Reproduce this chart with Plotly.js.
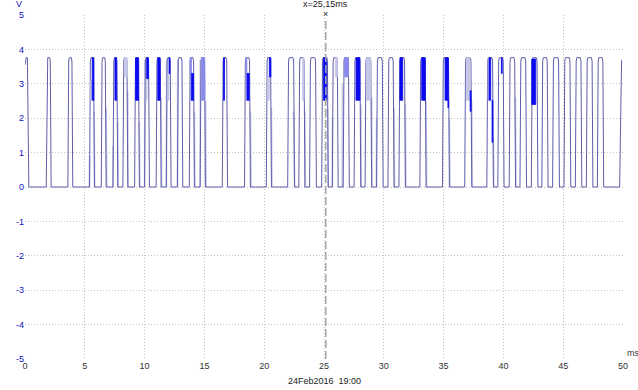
<!DOCTYPE html>
<html><head><meta charset="utf-8">
<script src="https://cdn.plot.ly/plotly-3.0.1.min.js"></script>
<style>html,body{margin:0;padding:0;background:#fff}#chart{width:638px;height:390px}</style>
</head><body><div id="chart"></div>
<script>
// ---- data (ms / V) ----
const riseMs = [1.81, 3.62, 5.43, 6.41, 7.39, 8.22, 9.2, 10.03, 11.0, 11.85, 12.78, 13.77, 14.68, 16.53, 18.39, 20.21, 22.0, 22.93, 23.83, 24.84, 25.73, 26.64, 27.55, 28.47, 29.43, 30.38, 31.3, 33.05, 34.94, 36.8, 38.65, 39.57, 40.52, 41.42, 42.37, 43.25, 44.15, 45.1, 46.05, 46.97, 47.89];
const fallMs = [2.15, 3.96, 5.77, 6.75, 7.72, 8.56, 9.53, 10.37, 11.35, 12.18, 13.16, 14.13, 15.05, 16.9, 18.81, 20.57, 22.5, 23.37, 24.33, 25.32, 26.15, 27.08, 28.04, 28.95, 29.91, 30.82, 31.77, 33.5, 35.45, 37.32, 39.13, 40.02, 40.98, 41.9, 42.85, 43.7, 44.65, 45.6, 46.52, 47.45, 48.35];
const highV = 3.76;
const startMs = [0, 0.1, 0.2, 0.32];
const startV = [3.55, 3.76, 3.76, 0];
const endMs = [49.72, 49.88, 49.92];
const endV = [0, 3.68, 3.7];

// glitch bands: dark blue
const blueX0 = [5.62, 7.52, 9.24, 10.17, 11.1, 12.04, 13.9, 16.6, 18.55, 20.43, 24.95, 27.68, 31.35, 33.17, 35.12, 35.36, 37.22, 38.8, 39.05, 39.83, 42.37];
const blueX1 = [5.76, 7.66, 9.5, 10.32, 11.3, 12.12, 14.1, 16.68, 18.75, 20.56, 25.22, 28.01, 31.58, 33.47, 35.4, 35.42, 37.3, 38.94, 39.12, 39.9, 42.7];
const blueLo = [2.52, 2.52, 2.52, 3.15, 2.52, 3.3, 2.52, 2.52, 2.52, 3.2, 2.52, 2.52, 2.52, 2.52, 2.52, 2.3, 2.2, 2.52, 1.3, 3.3, 2.4];
const blueHi = [3.76, 3.76, 3.76, 3.76, 3.76, 3.76, 3.3, 3.76, 3.3, 3.76, 3.76, 3.76, 3.76, 3.76, 3.76, 2.52, 2.8, 3.76, 2.52, 3.76, 3.72];
// glitch bands: medium blue
const midX0 = [13.8, 14.77, 18.45, 26.7];
const midX1 = [13.92, 15.03, 18.55, 27.05];
const midLo = [3.3, 2.52, 3.3, 3.2];
const midHi = [3.76, 3.76, 3.76, 3.76];
// glitch bands: lavender
const lavX0 = [5.5, 8.3, 9.22, 10.12, 11.95, 20.28, 23.2, 25.95, 28.55, 36.9, 38.72];
const lavX1 = [5.62, 8.55, 9.3, 10.2, 12.04, 20.43, 23.33, 26.12, 28.9, 37.2, 38.8];
const lavLo = [2.52, 3.2, 2.52, 2.52, 2.52, 2.52, 2.52, 3.2, 2.52, 2.52, 2.52];
const lavHi = [3.1, 3.76, 3.1, 3.15, 3.3, 3.2, 3.76, 3.76, 3.76, 3.76, 3.76];
// ghost edges (lavender): x at top, top V, x at bottom, bottom V
const ghostXTop = [5.4, 5.78, 6.78, 7.37, 7.75, 8.58, 9.55, 10.02, 11.38, 11.84, 12.77, 14.16, 14.66, 15.1, 18.85, 20.6, 22.45, 23.4, 25.3, 25.72, 26.55, 28.08, 28.98, 29.4, 30.86, 31.8, 33.53, 35.48, 37.35, 39.16, 41.0];
const ghostVTop = [0.9, 2.2, 2.3, 1.2, 1.9, 2.8, 1.9, 3.7, 2.6, 3.7, 3.7, 2.2, 3.7, 2.5, 2.2, 2.3, 2.2, 2.2, 2.3, 2.0, 3.0, 2.4, 2.6, 2.0, 2.3, 2.4, 2.5, 2.0, 2.5, 1.4, 2.6];
const ghostXBot = [5.38, 5.83, 6.84, 7.35, 7.8, 8.62, 9.6, 10.0, 11.42, 11.82, 12.75, 14.2, 14.64, 15.13, 18.9, 20.65, 22.55, 23.45, 25.35, 25.7, 26.52, 28.12, 29.02, 29.38, 30.9, 31.84, 33.58, 35.53, 37.4, 39.2, 41.05];
const ghostVBot = [0, 0, 0, 0, 0, 0, 0, 0, 0, 0, 0, 0, 0, 0, 0, 0, 0, 0, 0, 0, 0, 0, 0, 0, 0, 0, 0, 0, 0, 0, 0];

const cursorMs = 25.15;
const xTickVals = [0, 5, 10, 15, 20, 25, 30, 35, 40, 45, 50];
const xTickText = ['0', '5', '10', '15', '20', '25', '30', '35', '40', '45', '50'];
const yTickVals = [-5, -4, -3, -2, -1, 0, 1, 2, 3, 4, 5];
const yTickText = ['-5', '-4', '-3', '-2', '-1', '0', '1', '2', '3', '4', '5'];
const dateLabel = '24Feb2016  19:00';

// ---- build traces ----
const EDGE = 0.035, CORNER = 0.09;
const tx = [...startMs], ty = [...startV];
for (let i = 0; i < riseMs.length; i++) {
  const r = riseMs[i], f = fallMs[i];
  tx.push(r - EDGE, r + EDGE, r + CORNER, f - CORNER, f - EDGE, f + EDGE);
  ty.push(0, 3.66, highV, highV, 3.66, 0);
}
tx.push(...endMs); ty.push(...endV);

function rects(x0, x1, lo, hi) {
  const x = [], y = [];
  for (let i = 0; i < x0.length; i++) {
    x.push(x0[i], x1[i], x1[i], x0[i], x0[i], null);
    y.push(lo[i], lo[i], hi[i], hi[i], lo[i], null);
  }
  return {x, y};
}
const gx = [], gy = [];
for (let i = 0; i < ghostXTop.length; i++) {
  gx.push(ghostXTop[i], ghostXBot[i], null);
  gy.push(ghostVTop[i], ghostVBot[i], null);
}
const lav = rects(lavX0, lavX1, lavLo, lavHi);
const mid = rects(midX0, midX1, midLo, midHi);
const blu = rects(blueX0, blueX1, blueLo, blueHi);

const data = [
  {x: gx, y: gy, mode: 'lines', line: {color: '#c6c6e6', width: 1.6}, hoverinfo: 'skip', connectgaps: false},
  {x: tx, y: ty, mode: 'lines', line: {color: '#5e5eac', width: 1}, hoverinfo: 'skip'},
  {x: lav.x, y: lav.y, mode: 'lines', fill: 'toself', fillcolor: '#c6c6e8', line: {color: '#c6c6e8', width: 0.8}, hoverinfo: 'skip'},
  {x: mid.x, y: mid.y, mode: 'lines', fill: 'toself', fillcolor: '#8a8aea', line: {color: '#8a8aea', width: 0.8}, hoverinfo: 'skip'},
  {x: blu.x, y: blu.y, mode: 'lines', fill: 'toself', fillcolor: '#0a0af0', line: {color: '#0a0af0', width: 0.8}, hoverinfo: 'skip'}
];

const font = 'Liberation Sans, Arial, sans-serif';
const layout = {
  width: 638, height: 390,
  margin: {l: 25, r: 15, t: 15, b: 31, pad: 0},
  paper_bgcolor: '#fff', plot_bgcolor: '#fff',
  showlegend: false,
  xaxis: {range: [0, 50], tickmode: 'array', tickvals: xTickVals, ticktext: xTickText,
    showgrid: true, gridcolor: '#c4c4c4', griddash: '1px,2px', gridwidth: 1,
    zeroline: false, showline: false, ticks: '', tickfont: {family: font, size: 9, color: '#333'}, fixedrange: true},
  yaxis: {range: [-5, 5], tickmode: 'array', tickvals: yTickVals, ticktext: yTickText,
    showgrid: true, gridcolor: '#c4c4c4', griddash: '1px,2px', gridwidth: 1,
    zeroline: false, showline: false, ticks: '', tickfont: {family: font, size: 9, color: '#1010c0'}, fixedrange: true},
  shapes: [{type: 'line', xref: 'x', yref: 'y', x0: cursorMs, x1: cursorMs, y0: -5, y1: 4.88,
    line: {color: '#a6a6a6', width: 1.5, dash: '8px,3px'}, layer: 'above'}],
  annotations: [
    {xref: 'x', yref: 'paper', x: cursorMs, y: 1, yanchor: 'bottom', yshift: 4, text: 'x=25,15ms', showarrow: false, font: {family: font, size: 9, color: '#222'}},
    {xref: 'x', yref: 'paper', x: cursorMs, y: 1, yanchor: 'middle', yshift: 1, text: '×', showarrow: false, font: {family: font, size: 9, color: '#222'}},
    {xref: 'paper', yref: 'paper', x: 0, y: 1, xanchor: 'right', yanchor: 'bottom', xshift: -1, yshift: 4, text: 'V', showarrow: false, font: {family: font, size: 9, color: '#1010c0'}},
    {xref: 'paper', yref: 'paper', x: 1, y: 0, xanchor: 'left', yanchor: 'bottom', xshift: 2, yshift: -1, text: 'ms', showarrow: false, font: {family: font, size: 9, color: '#333'}},
    {xref: 'paper', yref: 'paper', x: 0.5, y: 0, xanchor: 'center', yanchor: 'top', yshift: -15, text: dateLabel, showarrow: false, font: {family: font, size: 9, color: '#222'}}
  ]
};
Plotly.newPlot('chart', data, layout, {displayModeBar: false, staticPlot: true});
</script>
</body></html>
